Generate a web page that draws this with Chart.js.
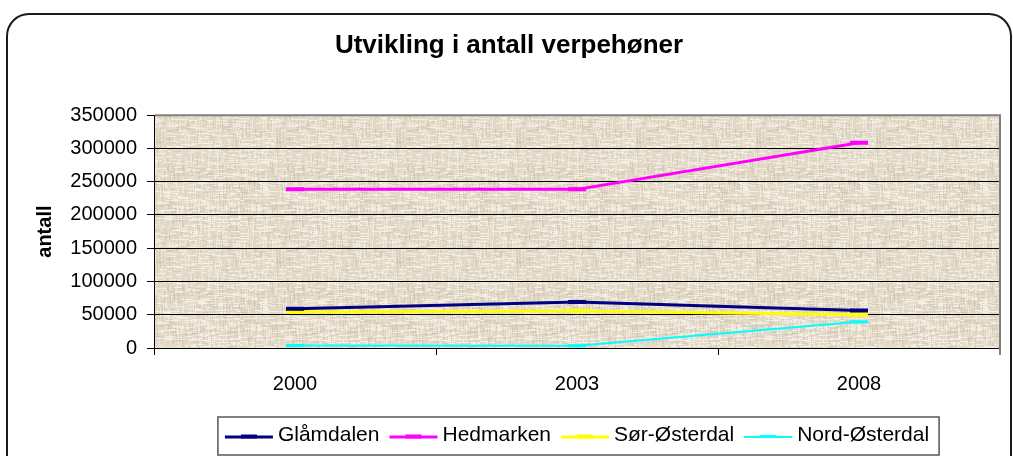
<!DOCTYPE html>
<html>
<head>
<meta charset="utf-8">
<title>Utvikling i antall verpehøner</title>
<script src="https://cdn.jsdelivr.net/npm/chart.js@4.4.1/dist/chart.umd.min.js"></script>
<style>
  html, body { margin: 0; padding: 0; background: #fff; }
  #wrap { width: 1013px; height: 456px; }
</style>
</head>
<body>
<div id="wrap"><canvas id="chart" width="1013" height="456"></canvas></div>
<script>
// år og antall verpehøner per region
const years = ['2000', '2003', '2008'];
const glamdalen = [59000, 69000, 56500];
const hedmarken = [238500, 238500, 308500];
const sorOsterdal = [54000, 55500, 50000];
const nordOsterdal = [3900, 3500, 39500];

const seriesNames = ['Glåmdalen', 'Hedmarken', 'Sør-Østerdal', 'Nord-Østerdal'];
const seriesColors = ['#000080', '#FF00FF', '#FFFF00', '#00FFFF'];
const lineWidths = [3, 3, 3, 2];

const FONT = 'Arial, "Liberation Sans", sans-serif';

// canvas-stoff bakgrunn (fast mønster, samme hver gang)
function hash(n) {
  const s = Math.sin(n * 12.9898 + 78.233) * 43758.5453;
  return s - Math.floor(s);
}
function makeTexture() {
  const size = 120;
  const c = document.createElement('canvas');
  c.width = size; c.height = size;
  const g = c.getContext('2d');
  g.fillStyle = '#e2d9c7';
  g.fillRect(0, 0, size, size);
  let k = 1;
  for (let y = 0; y < size; y++) {
    let x = 0;
    while (x < size) {
      const len = 2 + Math.floor(hash(k++) * 10);
      const r = hash(k++);
      if (r < 0.3) { g.fillStyle = 'rgba(248,244,236,0.75)'; g.fillRect(x, y, len, 1); }
      else if (r < 0.45) { g.fillStyle = 'rgba(195,184,162,0.35)'; g.fillRect(x, y, len, 1); }
      x += len + Math.floor(hash(k++) * 4);
    }
  }
  for (let x = 0; x < size; x++) {
    let y = 0;
    while (y < size) {
      const len = 2 + Math.floor(hash(k++) * 12);
      const r = hash(k++);
      if (r < 0.22) { g.fillStyle = 'rgba(246,241,232,0.55)'; g.fillRect(x, y, 1, len); }
      else if (r < 0.34) { g.fillStyle = 'rgba(185,173,150,0.28)'; g.fillRect(x, y, 1, len); }
      y += len + Math.floor(hash(k++) * 5);
    }
  }
  return c;
}
const texture = makeTexture();

const backgroundPlugin = {
  id: 'background',
  beforeDraw(chart) {
    const { ctx, chartArea: a } = chart;
    ctx.save();
    ctx.fillStyle = '#fff';
    ctx.fillRect(0, 0, chart.width, chart.height);
    ctx.fillStyle = ctx.createPattern(texture, 'repeat');
    ctx.fillRect(a.left, a.top, a.right - a.left, a.bottom - a.top);
    // avrundet ramme rundt hele diagrammet
    ctx.strokeStyle = '#1a1a1a';
    ctx.lineWidth = 2;
    ctx.beginPath();
    ctx.roundRect(7, 14, 1004, 470, 22);
    ctx.stroke();
    ctx.restore();
  },
  afterDraw(chart) {
    const { ctx, chartArea: a } = chart;
    ctx.save();
    ctx.strokeStyle = '#808080';
    ctx.lineWidth = 2;
    ctx.beginPath();
    ctx.moveTo(a.left + 1, a.top);
    ctx.lineTo(a.right, a.top);
    ctx.lineTo(a.right, a.bottom + 7);
    ctx.stroke();
    ctx.restore();
  }
};

// egen tegnforklaring med boks under diagrammet
const legendPlugin = {
  id: 'boxLegend',
  afterDraw(chart) {
    const { ctx, chartArea: a } = chart;
    const lineLen = 48, gapText = 5, gapItem = 10;
    ctx.save();
    ctx.font = '21px ' + FONT;
    const widths = seriesNames.map(n => ctx.measureText(n).width);
    const total = seriesNames.length * (lineLen + gapText) + widths.reduce((s, w) => s + w, 0) + gapItem * (seriesNames.length - 1);
    const mid = (a.left + a.right) / 2;
    let x = mid - total / 2;
    const boxL = x - 7, boxR = x + total + 10;
    ctx.strokeStyle = '#555';
    ctx.lineWidth = 1.5;
    ctx.strokeRect(boxL, 417, boxR - boxL, 38);
    const ly = 437;
    seriesNames.forEach((name, i) => {
      ctx.strokeStyle = seriesColors[i];
      ctx.lineWidth = lineWidths[i];
      ctx.beginPath();
      ctx.moveTo(x, ly);
      ctx.lineTo(x + lineLen, ly);
      ctx.stroke();
      ctx.fillStyle = seriesColors[i];
      ctx.fillRect(x + lineLen / 2 - 8, ly - lineWidths[i] / 2 - 1, 16, lineWidths[i] + 1);
      ctx.fillStyle = '#000';
      ctx.textBaseline = 'alphabetic';
      ctx.textAlign = 'left';
      ctx.fillText(name, x + lineLen + gapText, 441);
      x += lineLen + gapText + widths[i] + gapItem;
    });
    ctx.restore();
  }
};

const seriesData = [glamdalen, hedmarken, sorOsterdal, nordOsterdal];

new Chart(document.getElementById('chart'), {
  type: 'line',
  data: {
    labels: years,
    datasets: seriesNames.map((name, i) => ({
      label: name,
      data: seriesData[i],
      borderColor: seriesColors[i],
      backgroundColor: seriesColors[i],
      borderWidth: lineWidths[i],
      tension: 0,
      pointStyle: 'line',
      pointRadius: 9,
      pointHoverRadius: 9,
      pointBorderWidth: lineWidths[i] + 1,
      pointBorderColor: seriesColors[i]
    }))
  },
  options: {
    responsive: false,
    animation: false,
    devicePixelRatio: 1,
    layout: { padding: { left: 15, right: 10, top: 0, bottom: 48 } },
    plugins: {
      legend: { display: false },
      tooltip: { enabled: false },
      title: {
        display: true,
        text: 'Utvikling i antall verpehøner',
        color: '#000',
        font: { family: FONT, size: 26, weight: 'bold' },
        padding: { top: 30, bottom: 54 }
      }
    },
    scales: {
      x: {
        offset: true,
        grid: {
          offset: true,
          drawOnChartArea: false,
          color: '#000',
          tickLength: 7
        },
        border: { color: '#000', width: 1 },
        ticks: {
          color: '#000',
          font: { family: FONT, size: 20 },
          padding: 17,
          maxRotation: 0
        },
        afterFit(scale) { scale.height = 60; }
      },
      y: {
        min: 0,
        max: 350000,
        grid: { color: '#000', lineWidth: 1, tickLength: 7 },
        border: { color: '#000', width: 1 },
        ticks: {
          stepSize: 50000,
          color: '#000',
          font: { family: FONT, size: 20 },
          padding: 10,
          callback: v => String(v)
        },
        title: {
          display: true,
          text: 'antall',
          color: '#000',
          font: { family: FONT, size: 20, weight: 'bold' },
          padding: { top: 18, bottom: 0 }
        },
        afterFit(scale) { scale.width = 139; }
      }
    }
  },
  plugins: [backgroundPlugin, legendPlugin]
});
</script>
</body>
</html>
